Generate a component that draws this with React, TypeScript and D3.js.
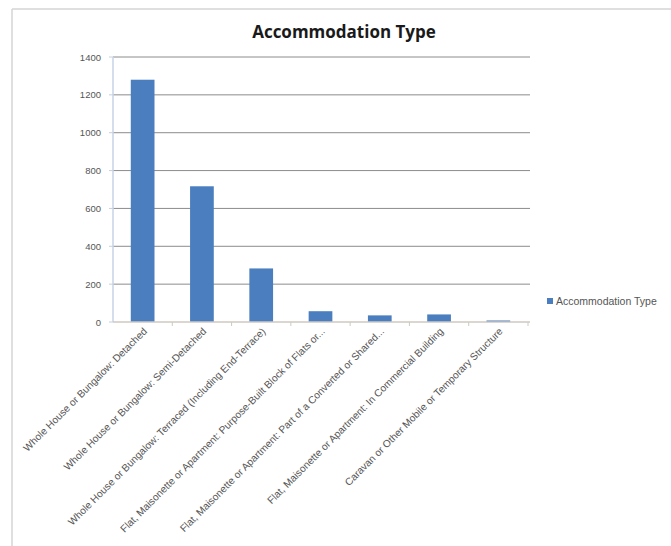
import React from "react";
import * as d3 from "d3";

const categories = [
  "Whole House or Bungalow: Detached",
  "Whole House or Bungalow: Semi-Detached",
  "Whole House or Bungalow: Terraced (Including End-Terrace)",
  "Flat, Maisonette or Apartment: Purpose-Built Block of Flats or...",
  "Flat, Maisonette or Apartment: Part of a Converted or Shared...",
  "Flat, Maisonette or Apartment: In Commercial Building",
  "Caravan or Other Mobile or Temporary Structure",
];
const values = [1280, 717, 283, 57, 35, 40, 8];
const yTicks = [0, 200, 400, 600, 800, 1000, 1200, 1400];
const seriesName = "Accommodation Type";
const title = "Accommodation Type";

const W = 671;
const H = 546;
const plot = { left: 113, right: 528, top: 57, bottom: 322 };
const BAR = "#4A7EBF";
const FONT = "'Liberation Sans', Arial, sans-serif";

export default function App() {
  const x = d3
    .scaleBand<string>()
    .domain(categories)
    .range([plot.left, plot.right])
    .paddingInner(0.6)
    .paddingOuter(0.3);
  const y = d3.scaleLinear().domain([0, 1400]).range([plot.bottom, plot.top]);
  const catW = (plot.right - plot.left) / categories.length;
  const catLeft = (i: number) => plot.left + i * catW;

  return (
    <svg
      width={W}
      height={H}
      style={{ position: "absolute", left: 0, top: 0, background: "#fff" }}
      fontFamily={FONT}
    >
      {/* chart frame */}
      <line x1={12} y1={9} x2={W} y2={9} stroke="#d4d4d4" strokeWidth={1.5} />
      <line x1={12} y1={9} x2={12} y2={H} stroke="#d4d4d4" strokeWidth={1.5} />

      <text
        x={344}
        y={38}
        textAnchor="middle"
        fontSize={17}
        fontWeight="bold"
        fill="#1a1a1a"
        fontFamily="'Open Sans', 'Liberation Sans', sans-serif"
      >
        {title}
      </text>

      {/* gridlines */}
      {yTicks.map((t) =>
        t === 0 ? null : (
          <line
            key={t}
            x1={plot.left}
            x2={plot.right + 2}
            y1={y(t)}
            y2={y(t)}
            stroke="#8c8c8c"
            strokeWidth={1}
          />
        )
      )}
      {yTicks.map((t) => (
        <g key={"yt" + t}>
          <line x1={plot.left - 4} x2={plot.left} y1={y(t)} y2={y(t)} stroke="#c6cfdc" />
          <text
            x={plot.left - 12}
            y={y(t) + 3.5}
            textAnchor="end"
            fontSize={9.5}
            fill="#555"
          >
            {t}
          </text>
        </g>
      ))}

      {/* bars */}
      {categories.map((c, i) => {
        const cx = catLeft(i) + catW / 2;
        const bw = x.bandwidth();
        return (
          <rect
            key={c}
            x={cx - bw / 2}
            y={y(values[i])}
            width={bw}
            height={plot.bottom - y(values[i])}
            fill={BAR}
          />
        );
      })}

      {/* axes */}
      <line x1={plot.left} x2={plot.left} y1={plot.top} y2={plot.bottom} stroke="#c6d3e6" strokeWidth={1.5} />
      <line x1={plot.left} x2={plot.right + 2} y1={plot.bottom} y2={plot.bottom} stroke="#cfcac0" strokeWidth={1.5} />
      {categories.map((c, i) => (
        <line
          key={"xt" + i}
          x1={catLeft(i) + catW}
          x2={catLeft(i) + catW}
          y1={plot.bottom}
          y2={plot.bottom + 4}
          stroke="#cfcac0"
        />
      ))}

      {/* category labels */}
      {categories.map((c, i) => {
        const cx = catLeft(i) + catW / 2 + 5;
        const cy = plot.bottom + 10;
        return (
          <text
            key={"xl" + i}
            transform={`translate(${cx},${cy}) rotate(-45)`}
            textAnchor="end"
            fontSize={10.2}
            fill="#555"
          >
            {c}
          </text>
        );
      })}

      {/* legend */}
      <rect x={547} y={298} width={6} height={6} fill={BAR} />
      <text x={556} y={305} fontSize={10.5} fill="#555">
        {seriesName}
      </text>
    </svg>
  );
}
